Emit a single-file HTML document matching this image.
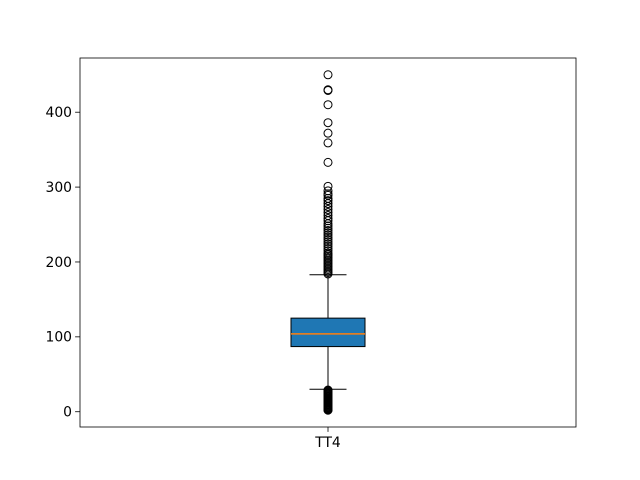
<!DOCTYPE html>
<html><head><meta charset="utf-8"><style>body{margin:0;background:#fff}svg{display:block;font-family:"DejaVu Sans","Liberation Sans",sans-serif}</style></head>
<body>
<svg id="chart" width="640" height="480"></svg>
<script>
const categories = ["TT4"];
const q1 = [87];
const median = [104];
const q3 = [125];
const whiskerLow = [30];
const whiskerHigh = [183];
const outliers = [[450,430,429,410,386,372,359,333,301,295,291,289,285,282,278,274,270,266,262,258,255,251,248,245,242,239,236,233,230,227,224,221,218,215,212,210,208,206,204,202,200,198,196,194,192,190,188,186,184,
29,28,27,26,25,24,23,22,21,20,19,18,17,16,15,14,13,12,11,10,9,8,7,6,5,4.5,4,3.5,3,2.5,2]];
const yTicks = [0,100,200,300,400];
const yMin = -20.4, yMax = 472.4;
const L=80,R=576,T=58,B=427;
const y = v => B - (v - yMin)/(yMax - yMin)*(B-T);
const x = i => L + (R-L)*(i+0.5)/categories.length;
const NS="http://www.w3.org/2000/svg";
const svg=document.getElementById('chart');
function mk(t,a,p){const e=document.createElementNS(NS,t);for(const k in a)e.setAttribute(k,a[k]);(p||svg).appendChild(e);return e;}
yTicks.forEach(v=>{
  const g=mk('g',{});
  
  
  mk('line',{x1:L-4.9,x2:L,y1:y(v),y2:y(v),stroke:'#000','stroke-width':0.8},g);
  const t=mk('text',{x:L-8,y:y(v)+4.8,'text-anchor':'end','font-size':13.9},g);t.textContent=v;
});
categories.forEach((c,i)=>{
  const cx=x(i),hw=37,cw=18.5;
  const g=mk('g',{});
  
  
  mk('line',{x1:cx,x2:cx,y1:y(q1[i]),y2:y(whiskerLow[i]),stroke:'#000'},g);
  mk('line',{x1:cx,x2:cx,y1:y(q3[i]),y2:y(whiskerHigh[i]),stroke:'#000'},g);
  mk('line',{x1:cx-cw,x2:cx+cw,y1:y(whiskerLow[i]),y2:y(whiskerLow[i]),stroke:'#000'},g);
  mk('line',{x1:cx-cw,x2:cx+cw,y1:y(whiskerHigh[i]),y2:y(whiskerHigh[i]),stroke:'#000'},g);
  mk('rect',{x:cx-hw,y:y(q3[i]),width:2*hw,height:y(q1[i])-y(q3[i]),fill:'#1f77b4',stroke:'#000'},g);
  mk('line',{x1:cx-hw,x2:cx+hw,y1:y(median[i]),y2:y(median[i]),stroke:'#ff7f0e','stroke-width':1.5},g);
  outliers[i].forEach(v=>{
    const c2=mk('circle',{cx:cx,cy:y(v),r:4,fill:'none',stroke:'#000','stroke-width':1},g);
    
    
  });
  mk('line',{x1:cx,x2:cx,y1:B,y2:B+4.9,stroke:'#000','stroke-width':0.8});
  const t=mk('text',{x:cx,y:B+20,'text-anchor':'middle','font-size':13.9});t.textContent=c;
  
  
});
const f=mk('rect',{x:L,y:T,width:R-L,height:B-T,fill:'none',stroke:'#000','stroke-width':0.8});


</script>
</body></html>
